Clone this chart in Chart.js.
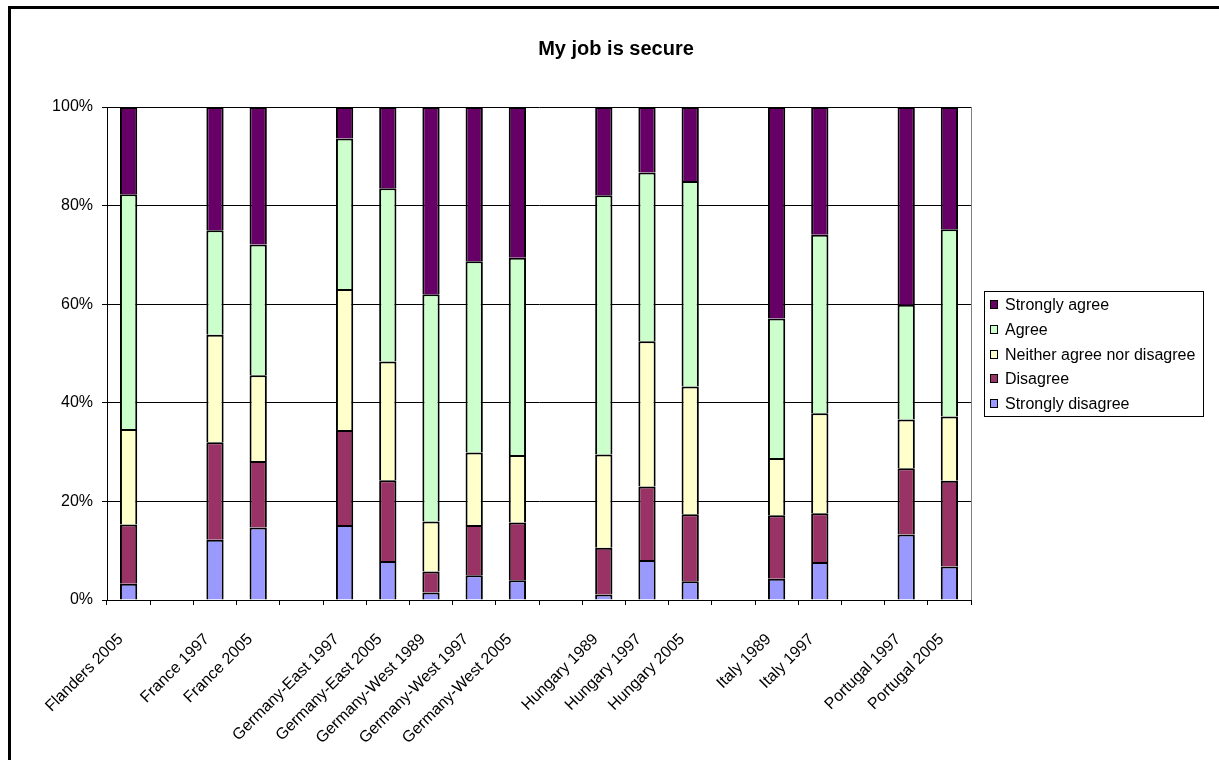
<!DOCTYPE html>
<html>
<head>
<meta charset="utf-8">
<script src="https://cdn.jsdelivr.net/npm/chart.js@4"></script>
<style>
  html, body { margin: 0; padding: 0; background: #fff; overflow: hidden; }
  #wrap { position: relative; width: 1219px; height: 760px; }
  #frame { position: absolute; left: 8px; top: 6px; width: 1400px; height: 900px;
           border-left: 3px solid #000; border-top: 3px solid #000; pointer-events: none; }
  canvas { position: absolute; left: 0; top: 0; }
</style>
</head>
<body>
<div id="wrap">
  <canvas id="secure" width="1219" height="760"></canvas>
  <div id="frame"></div>
</div>
<script>
// survey samples; empty strings are spacer columns between countries
const samples = ['Flanders 2005', '', 'France 1997', 'France 2005', '',
  'Germany-East 1997', 'Germany-East 2005', 'Germany-West 1989', 'Germany-West 1997', 'Germany-West 2005', '',
  'Hungary 1989', 'Hungary 1997', 'Hungary 2005', '',
  'Italy 1989', 'Italy 1997', '',
  'Portugal 1997', 'Portugal 2005'];

// share of answers (%) per sample
const stronglyDisagree = [3.3, null, 12.2, 14.7, null, 15.2, 7.9, 1.5, 5.0, 4.0, null, 1.1, 8.1, 3.8, null, 4.3, 7.7, null, 13.3, 6.8];
const disagree         = [12.0, null, 19.8, 13.5, null, 19.3, 16.4, 4.3, 10.2, 11.7, null, 9.5, 14.9, 13.6, null, 12.9, 9.9, null, 13.4, 17.4];
const neither          = [19.4, null, 21.8, 17.4, null, 28.6, 24.1, 10.1, 14.7, 13.7, null, 18.9, 29.5, 25.9, null, 11.6, 20.3, null, 9.9, 13.0];
const agree            = [47.6, null, 21.2, 26.5, null, 30.5, 35.1, 46.1, 38.8, 40.0, null, 52.6, 34.2, 41.7, null, 28.3, 36.2, null, 23.3, 38.0];
const stronglyAgree    = [17.7, null, 25.0, 27.9, null, 6.4, 16.5, 38.0, 31.3, 30.6, null, 17.9, 13.3, 15.0, null, 42.9, 25.9, null, 40.1, 24.8];

const yTicks = [0, 20, 40, 60, 80, 100];
const chartTitle = 'My job is secure';

const FONT = "'Liberation Sans', Arial, sans-serif";

function series(label, data, color) {
  return {
    label: label,
    data: data,
    backgroundColor: color,
    borderColor: '#000',
    borderWidth: 2,
    borderSkipped: 'bottom',
    categoryPercentage: 1.0,
    barPercentage: 0.4
  };
}

// title centred over the whole picture, not just the plot
const pageTitle = {
  id: 'pageTitle',
  afterDraw(chart) {
    const ctx = chart.ctx;
    ctx.save();
    ctx.font = 'bold 20px ' + FONT;
    ctx.fillStyle = '#000';
    ctx.textAlign = 'center';
    ctx.textBaseline = 'alphabetic';
    ctx.fillText(chartTitle, 616, 55);
    ctx.restore();
  }
};

// boxed legend to the right of the plot, top entry = last dataset
const boxLegend = {
  id: 'boxLegend',
  afterDraw(chart) {
    const ctx = chart.ctx;
    const left = 984.5, top = 291.5, width = 219, height = 125;
    ctx.save();
    ctx.strokeStyle = '#000';
    ctx.lineWidth = 1;
    ctx.strokeRect(left, top, width, height);
    ctx.font = '16px ' + FONT;
    ctx.textBaseline = 'middle';
    const sets = chart.data.datasets.slice().reverse();
    sets.forEach((ds, i) => {
      const cy = Math.round(305 + i * 24.8);
      ctx.fillStyle = ds.backgroundColor;
      ctx.fillRect(990.5, cy - 4.5, 7, 8);
      ctx.strokeRect(990.5, cy - 4.5, 7, 8);
      ctx.fillStyle = '#000';
      ctx.fillText(ds.label, 1005, cy + 1);
    });
    ctx.restore();
  }
};

// grey frame on the right edge of the plot area
const plotEdge = {
  id: 'plotEdge',
  afterDraw(chart) {
    const a = chart.chartArea;
    const ctx = chart.ctx;
    ctx.save();
    ctx.strokeStyle = '#808080';
    ctx.lineWidth = 1;
    ctx.beginPath();
    ctx.moveTo(Math.round(a.right) + 0.5, a.top);
    ctx.lineTo(Math.round(a.right) + 0.5, a.bottom);
    ctx.stroke();
    ctx.restore();
  }
};

new Chart(document.getElementById('secure'), {
  type: 'bar',
  data: {
    labels: samples,
    datasets: [
      series('Strongly disagree', stronglyDisagree, '#9999FF'),
      series('Disagree', disagree, '#993366'),
      series('Neither agree nor disagree', neither, '#FFFFCC'),
      series('Agree', agree, '#CCFFCC'),
      series('Strongly agree', stronglyAgree, '#660066')
    ]
  },
  options: {
    responsive: false,
    animation: false,
    layout: { padding: { left: 0, right: 248, top: 107, bottom: 0 } },
    plugins: {
      legend: { display: false },
      tooltip: { enabled: false },
      title: { display: false }
    },
    scales: {
      x: {
        stacked: true,
        afterFit(scale) { scale.height = 160; },
        border: { display: true, color: '#000', width: 1 },
        grid: { drawOnChartArea: false, drawTicks: true, tickLength: 5, color: '#000', offset: true },
        ticks: {
          autoSkip: false,
          maxRotation: 45,
          minRotation: 45,
          padding: 25,
          labelOffset: -8,
          color: '#000',
          font: { family: FONT, size: 16 }
        }
      },
      y: {
        stacked: true,
        min: 0,
        max: 100,
        afterFit(scale) { scale.width = 107; },
        afterBuildTicks(scale) { scale.ticks = yTicks.map(v => ({ value: v })); },
        border: { display: true, color: '#000', width: 1 },
        grid: { color: '#000', lineWidth: 1, drawTicks: true, tickLength: 5 },
        ticks: {
          color: '#000',
          padding: 9,
          font: { family: FONT, size: 16 },
          callback: v => v + '%'
        }
      }
    }
  },
  plugins: [pageTitle, boxLegend, plotEdge]
});
</script>
</body>
</html>
